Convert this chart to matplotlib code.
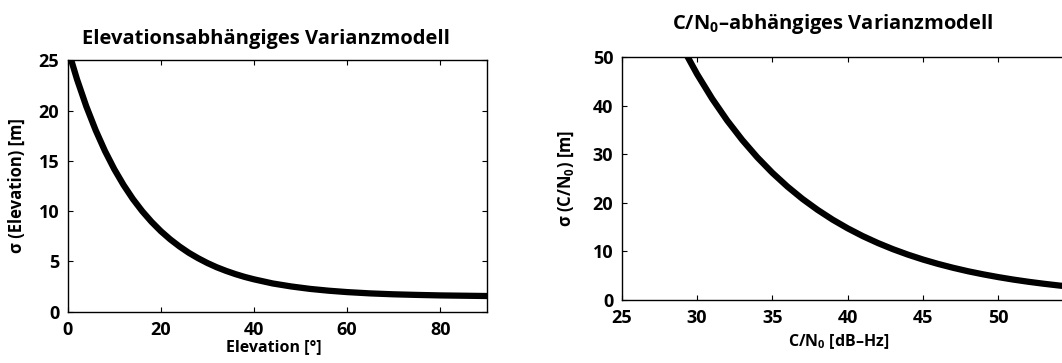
import numpy as np
import matplotlib
matplotlib.use("Agg")
import matplotlib.pyplot as plt

plt.rcParams['font.family'] = ['Open Sans', 'DejaVu Sans']
plt.rcParams['font.weight'] = 'bold'
plt.rcParams['mathtext.fontset'] = 'custom'
plt.rcParams['mathtext.rm'] = 'Open Sans:bold'
plt.rcParams['mathtext.default'] = 'rm'

# Elevation-Modell
elev = [0, 2, 4, 6, 8, 10, 12, 14, 16, 18, 20, 22, 24, 26, 28, 30, 32, 34, 36, 38,
        40, 44, 48, 52, 56, 60, 65, 70, 75, 80, 85, 90]
sig_elev = [26.2, 23.12, 20.42, 18.06, 15.99, 14.18, 12.60, 11.21, 10.00, 8.94,
            8.01, 7.20, 6.49, 5.86, 5.32, 4.84, 4.42, 4.06, 3.74, 3.46,
            3.22, 2.81, 2.51, 2.27, 2.09, 1.95, 1.82, 1.73, 1.67, 1.62, 1.59, 1.56]

# C/N0-Modell
cn0 = [29, 30, 31, 32, 33, 34, 35, 36, 37, 38, 39, 40, 41, 42, 43, 44, 45, 46,
       47, 48, 49, 50, 51, 52, 53, 54, 55]
sig_cn0 = [52.16, 46.49, 41.43, 36.92, 32.91, 29.33, 26.14, 23.30, 20.76, 18.51,
           16.49, 14.70, 13.10, 11.68, 10.41, 9.28, 8.27, 7.37, 6.57, 5.85, 5.22,
           4.65, 4.14, 3.69, 3.29, 2.93, 2.61]

fig = plt.figure(figsize=(10.62, 3.63), dpi=100)
ax1 = fig.add_axes([0.0637, 0.1413, 0.3948, 0.6926])
ax2 = fig.add_axes([0.5854, 0.1744, 0.4256, 0.6686])

for ax in (ax1, ax2):
    ax.tick_params(direction='in', top=True, right=True, length=3.6, width=0.8,
                   labelsize=13)
    ax.tick_params(axis='x', pad=7)
    ax.tick_params(axis='y', pad=6)
    for s in ax.spines.values():
        s.set_linewidth(1.0)

ax1.plot(elev, sig_elev, color='black', lw=4.5)
ax1.set_xlim(0, 90)
ax1.set_ylim(0, 25)
ax1.set_xticks([0, 20, 40, 60, 80])
ax1.set_yticks([0, 5, 10, 15, 20, 25])
ax1.set_title('Elevationsabhängiges Varianzmodell', fontsize=14.5, fontweight='bold',
              pad=11.5, x=0.473)
ax1.set_xlabel('Elevation [°]', fontsize=11.5, fontweight='bold')
ax1.xaxis.set_label_coords(0.492, -0.108)
ax1.set_ylabel('σ (Elevation) [m]', fontsize=12, fontweight='bold')
ax1.yaxis.set_label_coords(-0.099, 0.5)

ax2.plot(cn0, sig_cn0, color='black', lw=4.5)
ax2.set_xlim(25, 55)
ax2.set_ylim(0, 50)
ax2.set_xticks([25, 30, 35, 40, 45, 50, 55])
ax2.set_xticklabels(['25', '30', '35', '40', '45', '50', ''])
ax2.set_yticks([0, 10, 20, 30, 40, 50])
ax2.set_title('C/N$_{0}$–abhängiges Varianzmodell', fontsize=14.5, fontweight='bold',
              pad=20, x=0.4675)
ax2.set_xlabel('C/N$_{0}$ [dB–Hz]', fontsize=11.5, fontweight='bold')
ax2.xaxis.set_label_coords(0.479, -0.132)
ax2.set_ylabel('σ (C/N$_{0}$) [m]', fontsize=12, fontweight='bold')
ax2.yaxis.set_label_coords(-0.101, 0.5)

for lab in ax1.get_xticklabels() + ax1.get_yticklabels() + ax2.get_xticklabels() + ax2.get_yticklabels():
    lab.set_fontweight('bold')

fig.savefig('out.png', dpi=100)
